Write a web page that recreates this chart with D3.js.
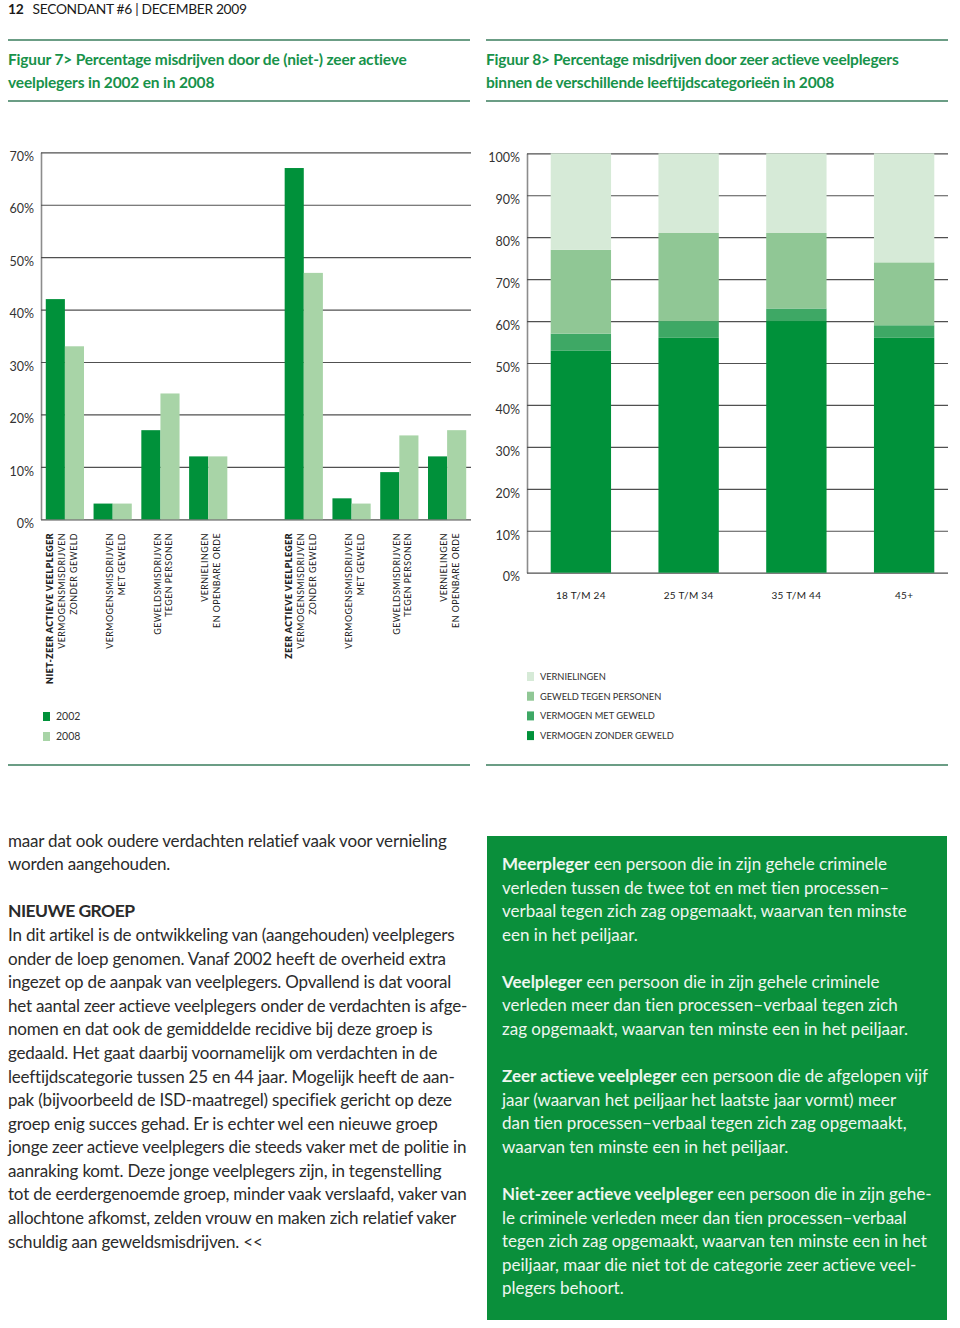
<!DOCTYPE html>
<html>
<head>
<meta charset="utf-8">
<script src="https://cdn.jsdelivr.net/npm/d3@7"></script>
<style>
  body { margin: 0; background: #fff; }
  svg { display: block; font-family: Lato, "Open Sans", sans-serif; }
</style>
</head>
<body>
<div id="page"></div>
<script>
const width = 960;
const height = 1328;

// ---- Figuur 7 data ----
const offenderGroups = ['NIET-ZEER ACTIEVE VEELPLEGER', 'ZEER ACTIEVE VEELPLEGER'];
const crimeTypes = [
  ['VERMOGENSMISDRIJVEN', 'ZONDER GEWELD'],
  ['VERMOGENSMISDRIJVEN', 'MET GEWELD'],
  ['GEWELDSMISDRIJVEN', 'TEGEN PERSONEN'],
  ['VERNIELINGEN', 'EN OPENBARE ORDE']
];
const years = ['2002', '2008'];
const nietZeer2002 = [42, 3, 17, 12];
const nietZeer2008 = [33, 3, 24, 12];
const zeer2002 = [67, 4, 9, 12];
const zeer2008 = [47, 3, 16, 17];
const fig7Ticks = [0, 10, 20, 30, 40, 50, 60, 70];

// ---- Figuur 8 data ----
const ageGroups = ['18 T/M 24', '25 T/M 34', '35 T/M 44', '45+'];
const stackKeys = ['VERMOGEN ZONDER GEWELD', 'VERMOGEN MET GEWELD', 'GEWELD TEGEN PERSONEN', 'VERNIELINGEN'];
const vermogenZonder = [53, 56, 60, 56];
const vermogenMet = [4, 4, 3, 3];
const geweldPersonen = [20, 21, 18, 15];
const vernielingen = [23, 19, 19, 26];
const fig8Ticks = [0, 10, 20, 30, 40, 50, 60, 70, 80, 90, 100];

// ---- text ----
const title7 = ['Figuur 7> Percentage misdrijven door de (niet-) zeer actieve', 'veelplegers in 2002 en in 2008'];
const title8 = ['Figuur 8> Percentage misdrijven door zeer actieve veelplegers', 'binnen de verschillende leeftijdscategorieën in 2008'];

const bodyLines = [
  'maar dat ook oudere verdachten relatief vaak voor vernieling',
  'worden aangehouden.',
  '',
  null, // heading
  'In dit artikel is de ontwikkeling van (aangehouden) veelplegers',
  'onder de loep genomen. Vanaf 2002 heeft de overheid extra',
  'ingezet op de aanpak van veelplegers. Opvallend is dat vooral',
  'het aantal zeer actieve veelplegers onder de verdachten is afge-',
  'nomen en dat ook de gemiddelde recidive bij deze groep is',
  'gedaald. Het gaat daarbij voornamelijk om verdachten in de',
  'leeftijdscategorie tussen 25 en 44 jaar. Mogelijk heeft de aan-',
  'pak (bijvoorbeeld de ISD-maatregel) specifiek gericht op deze',
  'groep enig succes gehad. Er is echter wel een nieuwe groep',
  'jonge zeer actieve veelplegers die steeds vaker met de politie in',
  'aanraking komt. Deze jonge veelplegers zijn, in tegenstelling',
  'tot de eerdergenoemde groep, minder vaak verslaafd, vaker van',
  'allochtone afkomst, zelden vrouw en maken zich relatief vaker',
  'schuldig aan geweldsmisdrijven. <<'
];

const boxLines = [
  ['Meerpleger', ' een persoon die in zijn gehele criminele'],
  ['', 'verleden tussen de twee tot en met tien processen–'],
  ['', 'verbaal tegen zich zag opgemaakt, waarvan ten minste'],
  ['', 'een in het peiljaar.'],
  null,
  ['Veelpleger', ' een persoon die in zijn gehele criminele'],
  ['', 'verleden meer dan tien processen–verbaal tegen zich'],
  ['', 'zag opgemaakt, waarvan ten minste een in het peiljaar.'],
  null,
  ['Zeer actieve veelpleger', ' een persoon die de afgelopen vijf'],
  ['', 'jaar (waarvan het peiljaar het laatste jaar vormt) meer'],
  ['', 'dan tien processen–verbaal tegen zich zag opgemaakt,'],
  ['', 'waarvan ten minste een in het peiljaar.'],
  null,
  ['Niet-zeer actieve veelpleger', ' een persoon die in zijn gehe-'],
  ['', 'le criminele verleden meer dan tien processen–verbaal'],
  ['', 'tegen zich zag opgemaakt, waarvan ten minste een in het'],
  ['', 'peiljaar, maar die niet tot de categorie zeer actieve veel-'],
  ['', 'plegers behoort.']
];

const green = '#00913a';
const colors7 = { '2002': green, '2008': '#a8d4a7' };
const colors8 = d3.scaleOrdinal().domain(stackKeys).range([green, '#3ea865', '#90c795', '#d6eAd7']);
const ruleColor = '#6b9d85';
const titleColor = '#17924a';
const textColor = '#2b2b2b';

const svg = d3.select('#page').append('svg')
  .attr('width', width)
  .attr('height', height)
  .attr('viewBox', `0 0 ${width} ${height}`);

// squeeze / stretch a text block so one reference line gets a target width
function fitBlock(sel, refNode, target) {
  const w = refNode.getComputedTextLength();
  const n = refNode.textContent.length;
  const ls = (target - w) / (n - 1);
  sel.attr('letter-spacing', ls.toFixed(3));
}

// ---- header ----
const header = svg.append('text')
  .attr('x', 8).attr('y', 14)
  .attr('font-size', 13.8)
  .attr('fill', '#1a1a1a');
header.append('tspan').attr('font-weight', 700).text('12');
header.append('tspan').attr('dx', 6).text(' SECONDANT #6 | DECEMBER 2009');
fitBlock(header, header.node(), 233);

// ---- rules ----
const rules = [
  [8, 470, 40], [8, 470, 101], [486, 948, 40], [486, 948, 101],
  [8, 470, 765], [486, 948, 765]
];
svg.append('g').selectAll('line').data(rules).join('line')
  .attr('x1', d => d[0]).attr('x2', d => d[1])
  .attr('y1', d => d[2]).attr('y2', d => d[2])
  .attr('stroke', ruleColor).attr('stroke-width', 2);

// ---- titles ----
function drawTitle(lines, x, target) {
  const g = svg.append('g');
  const t = g.selectAll('text').data(lines).join('text')
    .attr('x', x)
    .attr('y', (d, i) => 64.5 + i * 23)
    .attr('font-size', 15.5)
    .attr('font-weight', 700)
    .attr('fill', titleColor)
    .text(d => d);
  fitBlock(t, t.node(), target);
}
drawTitle(title7, 8, 399);
drawTitle(title8, 486, 413);

// ---- Figuur 7 chart ----
const rows7 = [];
offenderGroups.forEach((grp, gi) => {
  const a = gi === 0 ? nietZeer2002 : zeer2002;
  const b = gi === 0 ? nietZeer2008 : zeer2008;
  crimeTypes.forEach((c, ci) => {
    rows7.push({ key: gi + '-' + ci, group: gi, crime: ci, values: { '2002': a[ci], '2008': b[ci] } });
  });
});
const slots7 = rows7.map(d => d.key);
slots7.splice(4, 0, 'gap');

const x7 = d3.scaleBand().domain(slots7).range([41, 471]).paddingInner(0.2).paddingOuter(0.1);
const x7inner = d3.scaleBand().domain(years).range([0, x7.bandwidth()]);
const y7 = d3.scaleLinear().domain([0, 70]).range([519.3, 152.3]);

const grid7 = svg.append('g')
  .attr('transform', 'translate(41,0)')
  .call(d3.axisLeft(y7).tickValues(fig7Ticks).tickSize(-430).tickSizeOuter(0)
    .tickPadding(7).tickFormat(d => d + '%'));
grid7.select('.domain').attr('stroke', '#8c8c8c').attr('stroke-width', 1.6);
grid7.selectAll('.tick line').attr('stroke', '#505050').attr('stroke-width', 1.2);
grid7.selectAll('.tick text').attr('font-size', 12.5).attr('fill', '#333')
  .attr('font-family', 'Lato, sans-serif').attr('dy', '0.66em');

const bars7 = svg.append('g').selectAll('g').data(rows7).join('g')
  .attr('transform', d => `translate(${x7(d.key)},0)`);
bars7.selectAll('rect').data(d => years.map(y => ({ year: y, value: d.values[y] }))).join('rect')
  .attr('x', d => x7inner(d.year))
  .attr('width', x7inner.bandwidth())
  .attr('y', d => y7(d.value))
  .attr('height', d => y7(0) - y7(d.value))
  .attr('fill', d => colors7[d.year]);

// rotated category labels
const labelTop = 533;
const labels7 = svg.append('g').selectAll('g').data(rows7).join('g')
  .attr('transform', d => `translate(${x7(d.key) + x7.bandwidth() / 2},${labelTop}) rotate(-90)`);
labels7.each(function (d) {
  const g = d3.select(this);
  const lines = crimeTypes[d.crime].map((t, i) => ({ t, off: -3 + i * 11.8, bold: false }));
  if (d.crime === 0) lines.unshift({ t: offenderGroups[d.group], off: -14.8, bold: true });
  g.selectAll('text').data(lines).join('text')
    .attr('x', 0)
    .attr('y', l => l.off)
    .attr('dy', '0.36em')
    .attr('text-anchor', 'end')
    .attr('font-size', 8.8)
    .attr('letter-spacing', 0.5)
    .attr('font-weight', l => l.bold ? 800 : 400)
    .attr('fill', '#222')
    .text(l => l.t);
});

// legend fig 7
const leg7 = svg.append('g').selectAll('g').data(years).join('g')
  .attr('transform', (d, i) => `translate(43,${712 + i * 20})`);
leg7.append('rect').attr('width', 7).attr('height', 9).attr('fill', d => colors7[d]);
leg7.append('text').attr('x', 13).attr('y', 8).attr('font-size', 10.5).attr('fill', '#333').text(d => d);

// ---- Figuur 8 chart ----
const rows8 = ageGroups.map((a, i) => ({
  age: a,
  [stackKeys[0]]: vermogenZonder[i],
  [stackKeys[1]]: vermogenMet[i],
  [stackKeys[2]]: geweldPersonen[i],
  [stackKeys[3]]: vernielingen[i]
}));
const stacked = d3.stack().keys(stackKeys)(rows8);

const x8 = d3.scaleBand().domain(ageGroups).range([527, 958]).paddingInner(0.44).paddingOuter(0.22);
const y8 = d3.scaleLinear().domain([0, 100]).range([572.7, 153.3]);

const grid8 = svg.append('g')
  .attr('transform', 'translate(527,0)')
  .call(d3.axisLeft(y8).tickValues(fig8Ticks).tickSize(-421).tickSizeOuter(0)
    .tickPadding(7).tickFormat(d => d + '%'));
grid8.select('.domain').attr('stroke', '#8c8c8c').attr('stroke-width', 1.6);
grid8.selectAll('.tick line').attr('stroke', '#505050').attr('stroke-width', 1.2);
grid8.selectAll('.tick text').attr('font-size', 12.5).attr('fill', '#333')
  .attr('font-family', 'Lato, sans-serif').attr('dy', '0.66em');

svg.append('g').selectAll('g').data(stacked).join('g')
  .attr('fill', d => colors8(d.key))
  .selectAll('rect').data(d => d).join('rect')
  .attr('x', d => x8(d.data.age))
  .attr('width', x8.bandwidth())
  .attr('y', d => y8(d[1]))
  .attr('height', d => y8(d[0]) - y8(d[1]));

svg.append('g').selectAll('text').data(ageGroups).join('text')
  .attr('x', d => x8(d) + x8.bandwidth() / 2)
  .attr('y', 599)
  .attr('text-anchor', 'middle')
  .attr('font-size', 10)
  .attr('letter-spacing', 0.3)
  .attr('fill', '#222')
  .text(d => d);

// legend fig 8 (top to bottom: lightest first)
const leg8 = svg.append('g').selectAll('g').data(stackKeys.slice().reverse()).join('g')
  .attr('transform', (d, i) => `translate(527,${672 + i * 19.7})`);
leg8.append('rect').attr('width', 7).attr('height', 9).attr('fill', d => colors8(d));
leg8.append('text').attr('x', 13).attr('y', 8).attr('font-size', 9.3)
  .attr('letter-spacing', -0.05).attr('fill', '#333').text(d => d);

// ---- body text ----
const lineStep = 23.58;
const body = svg.append('g');
const bodyText = body.selectAll('text').data(bodyLines.map((t, i) => ({ t, i })).filter(d => d.t))
  .join('text')
  .attr('x', 8)
  .attr('y', d => 846.7 + d.i * lineStep)
  .attr('font-size', 17)
  .attr('fill', textColor)
  .text(d => d.t);
fitBlock(bodyText, bodyText.filter(d => d.i === 13).node(), 459);

const heading = body.append('text')
  .attr('x', 8).attr('y', 846.7 + 3 * lineStep)
  .attr('font-size', 17.5).attr('font-weight', 700)
  .attr('fill', '#2a2a2a')
  .text('NIEUWE GROEP');
fitBlock(heading, heading.node(), 127);

// ---- definitions box ----
svg.append('rect')
  .attr('x', 487).attr('y', 836).attr('width', 460).attr('height', 484)
  .attr('fill', '#0a8f3b');

const boxText = svg.append('g').selectAll('text')
  .data(boxLines.map((l, i) => ({ l, i })).filter(d => d.l))
  .join('text')
  .attr('x', 502)
  .attr('y', d => 870 + d.i * lineStep)
  .attr('font-size', 17)
  .attr('fill', '#eef6ef');
boxText.append('tspan').attr('font-weight', 700).text(d => d.l[0]);
boxText.append('tspan').text(d => d.l[1]);
fitBlock(boxText, boxText.filter(d => d.i === 7).node(), 406);
</script>
</body>
</html>
